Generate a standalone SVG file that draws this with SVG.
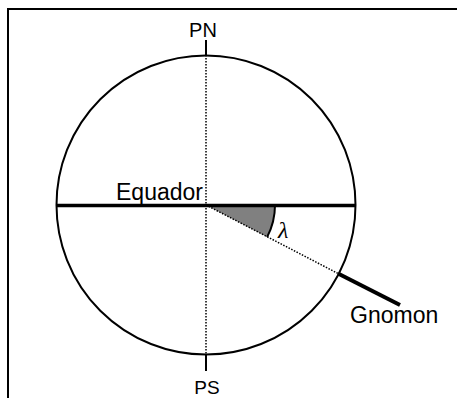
<svg xmlns="http://www.w3.org/2000/svg" width="457" height="398" viewBox="0 0 457 398">
<style>
.lbl{font-family:"Liberation Sans",Arial,sans-serif;fill:#000}
.dot{stroke:#000;stroke-width:1.5;stroke-dasharray:1.5 1.5;fill:none}
</style>
<rect x="0" y="0" width="457" height="398" fill="#fff"/>
<rect id="frame" x="8" y="9" width="470" height="410" fill="none" stroke="#000" stroke-width="2"/>
<g id="globe">
<circle cx="206" cy="205" r="149.5" fill="none" stroke="#000" stroke-width="2"/>
</g>
<g id="angle">
<path d="M206,205 L275,205 A69,69 0 0 1 267.2,236.9 Z" fill="#808080"/>
<path d="M275,205 A69,69 0 0 1 267.2,236.9" fill="none" stroke="#000" stroke-width="2"/>
<text x="278" y="238" font-family="'Liberation Serif',serif" font-style="italic" font-size="24">λ</text>
</g>
<g id="connectors">
<line class="dot" x1="206" y1="55" x2="206" y2="355"/>
<line class="dot" x1="206" y1="205" x2="339" y2="274"/>
<line x1="206" y1="40" x2="206" y2="56" stroke="#000" stroke-width="2"/>
<line x1="206" y1="354" x2="206" y2="371" stroke="#000" stroke-width="2"/>
</g>
<g id="equator">
<line x1="56" y1="205.5" x2="356" y2="205.5" stroke="#000" stroke-width="3.5"/>
<text class="lbl" x="116" y="200" font-size="23">Equador</text>
</g>
<g id="gnomon">
<line x1="338" y1="273.5" x2="400" y2="305" stroke="#000" stroke-width="4"/>
<text class="lbl" x="350" y="323" font-size="23">Gnomon</text>
</g>
<g id="PN"><text class="lbl" x="203" y="37" font-size="20" text-anchor="middle">PN</text></g>
<g id="PS"><text class="lbl" x="207" y="394" font-size="19" text-anchor="middle">PS</text></g>
</svg>
